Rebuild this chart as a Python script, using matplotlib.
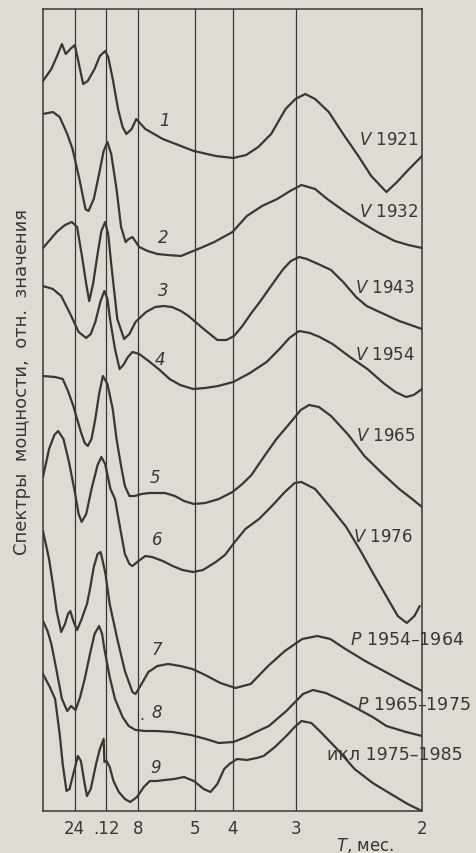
import matplotlib
matplotlib.use('Agg')
import matplotlib.pyplot as plt

# scanned-paper look
paper = '#dedbd1'
ink = '#3a3733'

# period grid, months (x axis is frequency 1/T)
periods = [24, 12, 8, 5, 4, 3, 2]
period_labels = ['24', '.12', '8', '5', '4', '3', '2']

# curve 1, V 1921
freq_1 = [0.000, 0.011, 0.018, 0.025, 0.030, 0.036, 0.042, 0.046, 0.051, 0.053, 0.059, 0.068,
          0.075, 0.082, 0.086, 0.092, 0.099, 0.105, 0.110, 0.117, 0.123, 0.135, 0.158, 0.199,
          0.228, 0.251, 0.268, 0.284, 0.301, 0.320, 0.333, 0.346, 0.359, 0.377, 0.396, 0.416,
          0.433, 0.453, 0.467, 0.483, 0.500]
power_1 = [7.30, 7.42, 7.54, 7.67, 7.57, 7.62, 7.66, 7.52, 7.34, 7.27, 7.30, 7.42,
           7.55, 7.60, 7.54, 7.32, 7.02, 6.84, 6.77, 6.82, 6.92, 6.82, 6.72, 6.60,
           6.55, 6.53, 6.56, 6.64, 6.77, 7.02, 7.12, 7.17, 7.12, 6.99, 6.77, 6.55,
           6.35, 6.19, 6.29, 6.42, 6.55]

# curve 2, V 1932
freq_2 = [0.000, 0.013, 0.022, 0.032, 0.039, 0.048, 0.056, 0.060, 0.067, 0.074, 0.080, 0.085,
          0.090, 0.097, 0.103, 0.109, 0.113, 0.118, 0.127, 0.138, 0.151, 0.164, 0.182, 0.195,
          0.211, 0.226, 0.250, 0.269, 0.289, 0.309, 0.326, 0.341, 0.359, 0.375, 0.397, 0.419,
          0.441, 0.464, 0.482, 0.500]
power_2 = [6.97, 6.99, 6.94, 6.77, 6.62, 6.32, 6.02, 6.00, 6.12, 6.37, 6.60, 6.69,
           6.57, 6.22, 5.84, 5.69, 5.72, 5.74, 5.64, 5.60, 5.57, 5.56, 5.55, 5.59,
           5.64, 5.69, 5.79, 5.95, 6.05, 6.12, 6.20, 6.26, 6.22, 6.12, 6.00, 5.89,
           5.79, 5.70, 5.66, 5.63]

# curve 3, V 1943
freq_3 = [0.000, 0.018, 0.029, 0.038, 0.045, 0.052, 0.057, 0.061, 0.066, 0.072, 0.077, 0.082,
          0.086, 0.090, 0.098, 0.107, 0.114, 0.122, 0.136, 0.148, 0.159, 0.170, 0.182, 0.192,
          0.212, 0.230, 0.242, 0.252, 0.263, 0.274, 0.287, 0.298, 0.317, 0.327, 0.338, 0.348,
          0.363, 0.380, 0.396, 0.413, 0.427, 0.444, 0.470, 0.500]
power_3 = [5.63, 5.79, 5.86, 5.89, 5.84, 5.52, 5.27, 5.10, 5.27, 5.57, 5.80, 5.89,
           5.77, 5.47, 4.92, 4.72, 4.77, 4.89, 4.99, 5.04, 5.05, 5.04, 5.00, 4.95,
           4.82, 4.71, 4.71, 4.75, 4.85, 4.97, 5.10, 5.22, 5.42, 5.50, 5.54, 5.52,
           5.47, 5.41, 5.29, 5.14, 5.05, 4.99, 4.90, 4.82]

# curve 4, V 1954
freq_4 = [0.000, 0.013, 0.024, 0.036, 0.047, 0.057, 0.063, 0.069, 0.076, 0.081, 0.085, 0.089,
          0.095, 0.101, 0.106, 0.112, 0.118, 0.127, 0.141, 0.154, 0.167, 0.181, 0.198, 0.214,
          0.231, 0.251, 0.273, 0.295, 0.312, 0.325, 0.338, 0.352, 0.365, 0.382, 0.405, 0.428,
          0.449, 0.465, 0.479, 0.489, 0.500]
power_4 = [5.25, 5.22, 5.15, 4.97, 4.79, 4.73, 4.77, 4.89, 5.10, 5.20, 5.12, 4.89,
           4.62, 4.42, 4.46, 4.54, 4.59, 4.57, 4.49, 4.41, 4.32, 4.26, 4.22, 4.23,
           4.25, 4.29, 4.38, 4.49, 4.62, 4.73, 4.80, 4.78, 4.74, 4.67, 4.54, 4.42,
           4.28, 4.19, 4.14, 4.16, 4.22]

# curve 5, V 1965
freq_5 = [0.000, 0.016, 0.026, 0.033, 0.040, 0.050, 0.055, 0.059, 0.064, 0.069, 0.074, 0.079,
          0.085, 0.092, 0.097, 0.103, 0.108, 0.114, 0.121, 0.130, 0.140, 0.150, 0.161, 0.174,
          0.186, 0.199, 0.214, 0.232, 0.250, 0.263, 0.275, 0.293, 0.308, 0.327, 0.340, 0.351,
          0.364, 0.380, 0.403, 0.424, 0.447, 0.470, 0.487, 0.500]
power_5 = [4.35, 4.34, 4.32, 4.20, 4.05, 3.79, 3.68, 3.65, 3.72, 3.92, 4.17, 4.35,
           4.27, 4.02, 3.72, 3.45, 3.25, 3.15, 3.15, 3.17, 3.18, 3.18, 3.18, 3.15,
           3.10, 3.07, 3.08, 3.12, 3.19, 3.27, 3.36, 3.56, 3.72, 3.89, 4.01, 4.06,
           4.04, 3.95, 3.76, 3.55, 3.38, 3.22, 3.12, 3.04]

# curve 6, V 1976
freq_6 = [0.000, 0.008, 0.015, 0.020, 0.027, 0.034, 0.042, 0.047, 0.051, 0.057, 0.064, 0.072,
          0.077, 0.082, 0.089, 0.095, 0.102, 0.108, 0.114, 0.118, 0.126, 0.135, 0.144, 0.158,
          0.171, 0.184, 0.198, 0.211, 0.228, 0.240, 0.253, 0.267, 0.285, 0.302, 0.319, 0.332,
          0.341, 0.359, 0.379, 0.400, 0.419, 0.436, 0.449, 0.468, 0.480, 0.490, 0.497]
power_6 = [3.34, 3.62, 3.76, 3.80, 3.72, 3.50, 3.19, 2.97, 2.89, 2.97, 3.22, 3.46,
           3.54, 3.47, 3.22, 3.12, 2.82, 2.57, 2.47, 2.45, 2.50, 2.55, 2.54, 2.50,
           2.45, 2.41, 2.39, 2.41, 2.49, 2.56, 2.69, 2.82, 2.92, 3.05, 3.19, 3.28,
           3.29, 3.22, 3.04, 2.84, 2.60, 2.37, 2.20, 1.95, 1.88, 1.95, 2.05]

# curve 7, P 1954-1964
freq_7 = [0.000, 0.008, 0.014, 0.018, 0.024, 0.029, 0.033, 0.036, 0.040, 0.045, 0.051, 0.058,
          0.062, 0.067, 0.072, 0.076, 0.082, 0.088, 0.098, 0.108, 0.118, 0.122, 0.130, 0.139,
          0.151, 0.165, 0.181, 0.197, 0.214, 0.234, 0.254, 0.274, 0.297, 0.319, 0.342, 0.362,
          0.379, 0.399, 0.425, 0.452, 0.479, 0.500]
power_7 = [2.80, 2.52, 2.22, 2.00, 1.79, 1.87, 1.97, 2.00, 1.90, 1.81, 1.92, 2.07,
           2.22, 2.44, 2.57, 2.59, 2.39, 2.07, 1.72, 1.40, 1.19, 1.17, 1.27, 1.39,
           1.45, 1.47, 1.45, 1.42, 1.36, 1.28, 1.23, 1.27, 1.45, 1.60, 1.72, 1.75,
           1.72, 1.62, 1.50, 1.39, 1.28, 1.20]

# curve 8, P 1965-1975
freq_8 = [0.000, 0.006, 0.011, 0.017, 0.025, 0.032, 0.037, 0.043, 0.049, 0.055, 0.062, 0.068,
          0.074, 0.078, 0.081, 0.088, 0.095, 0.105, 0.113, 0.122, 0.135, 0.149, 0.171, 0.195,
          0.215, 0.232, 0.251, 0.268, 0.281, 0.298, 0.321, 0.343, 0.356, 0.373, 0.390, 0.413,
          0.435, 0.453, 0.479, 0.500]
power_8 = [1.90, 1.80, 1.67, 1.44, 1.12, 1.00, 1.05, 1.01, 1.14, 1.32, 1.57, 1.77,
           1.85, 1.77, 1.62, 1.34, 1.12, 0.94, 0.85, 0.81, 0.80, 0.80, 0.79, 0.76,
           0.72, 0.68, 0.69, 0.74, 0.79, 0.85, 1.00, 1.17, 1.21, 1.18, 1.12, 1.03,
           0.94, 0.85, 0.79, 0.75]

# curve 9, цикл 1975-1985
freq_9 = [0.000, 0.009, 0.016, 0.022, 0.026, 0.031, 0.035, 0.040, 0.046, 0.050, 0.055, 0.058,
          0.063, 0.070, 0.075, 0.080, 0.081, 0.084, 0.088, 0.093, 0.100, 0.108, 0.115, 0.124,
          0.133, 0.141, 0.150, 0.161, 0.173, 0.186, 0.199, 0.212, 0.221, 0.230, 0.239, 0.246,
          0.256, 0.269, 0.282, 0.291, 0.306, 0.321, 0.332, 0.341, 0.354, 0.365, 0.388, 0.411,
          0.435, 0.459, 0.481, 0.500]
power_9 = [1.37, 1.24, 1.12, 0.77, 0.47, 0.20, 0.22, 0.37, 0.55, 0.50, 0.27, 0.15,
           0.22, 0.47, 0.62, 0.72, 0.49, 0.50, 0.44, 0.30, 0.19, 0.12, 0.09, 0.14,
           0.24, 0.30, 0.30, 0.31, 0.32, 0.34, 0.30, 0.22, 0.19, 0.27, 0.42, 0.47,
           0.52, 0.51, 0.53, 0.55, 0.64, 0.75, 0.84, 0.90, 0.88, 0.80, 0.62, 0.42,
           0.28, 0.17, 0.07, 0.00]

curves = [(freq_1, power_1), (freq_2, power_2), (freq_3, power_3),
          (freq_4, power_4), (freq_5, power_5), (freq_6, power_6),
          (freq_7, power_7), (freq_8, power_8), (freq_9, power_9)]

W, H = 476, 854


def px(x, y):
    # pixel position -> figure fraction
    return x / W, 1 - y / H


fig = plt.figure(figsize=(W / 100, H / 100), dpi=100, facecolor=paper)
ax = fig.add_axes([43 / W, 1 - 812 / H, 379 / W, 802 / H])
ax.set_facecolor(paper)

for T in periods[:-1]:
    ax.axvline(1.0 / T, color=ink, lw=0.9, zorder=1)

for f, p in curves:
    ax.plot(f, p, color=ink, lw=1.6, solid_joinstyle='round', solid_capstyle='round', zorder=2)

ax.set_xlim(0, 0.5)
ax.set_ylim(0, 8.02)
ax.set_xticks([1.0 / T for T in periods])
ax.set_xticklabels(period_labels, fontsize=12, color=ink)
ax.set_yticks([])
ax.tick_params(axis='x', length=0, pad=6)
for s in ax.spines.values():
    s.set_color(ink)
    s.set_linewidth(1.1)

# curve numbers
nums = [('1', 165, 121), ('2', 163, 238), ('3', 163, 291), ('4', 160, 360), ('5', 155, 478),
        ('6', 157, 540), ('7', 157, 650), ('8', 157, 713), ('9', 156, 768)]
for t, x, y in nums:
    fig.text(*px(x, y), t, fontsize=12, style='italic', color=ink, ha='center', va='center')
fig.text(*px(142, 716), '.', fontsize=11, color=ink, ha='center', va='center')

# right-hand labels
for t, x, y in [(r'$\mathit{V}$ 1921', 418, 140), (r'$\mathit{V}$ 1932', 418, 212),
                (r'$\mathit{V}$ 1943', 415, 288), (r'$\mathit{V}$ 1954', 415, 355),
                (r'$\mathit{V}$ 1965', 415, 436), (r'$\mathit{V}$ 1976', 413, 537)]:
    fig.text(*px(x, y), t, fontsize=12, color=ink, ha='right', va='center')

for t, x, y in [(r'$\mathit{P}$ 1954–1964', 350, 640), (r'$\mathit{P}$ 1965–1975', 357, 705),
                ('икл 1975–1985', 327, 755)]:
    fig.text(*px(x, y), t, fontsize=12.5, color=ink, ha='left', va='center')

fig.text(*px(22, 382), 'Спектры  мощности,  отн.  значения', fontsize=13, color=ink,
         rotation=90, ha='center', va='center')
fig.text(*px(365, 846), r'$\mathit{T}$, мес.', fontsize=12, color=ink, ha='center', va='center')

fig.savefig('out.png', dpi=100, facecolor=paper)
